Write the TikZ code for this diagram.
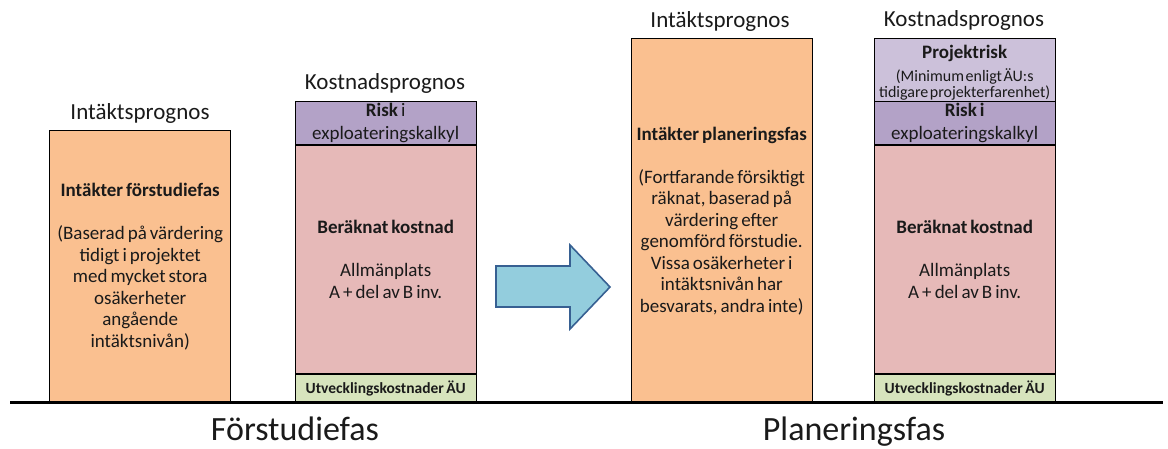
\documentclass[tikz,border=0pt]{standalone}
\usepackage{fontspec}
\setmainfont{Carlito}
\definecolor{orangeF}{HTML}{FAC090}
\definecolor{purpleF}{HTML}{B3A2C7}
\definecolor{lilacF}{HTML}{CCC1DA}
\definecolor{pinkF}{HTML}{E6B9B8}
\definecolor{greenF}{HTML}{D7E4BD}
\definecolor{arrowF}{HTML}{93CDDD}
\definecolor{arrowD}{HTML}{376092}
\definecolor{txt}{HTML}{1A1A1A}
\tikzset{
  seg/.style={draw=black, line width=1.4pt, anchor=north west, inner sep=0pt,
    minimum width=181pt, align=center, text=txt,
    font={\fontsize{19}{21.5}\selectfont\spaceskip=0.16em}},
  title/.style={anchor=base, font={\fontsize{23}{27}\selectfont}, text=txt, inner sep=0pt},
  phase/.style={anchor=base, font={\fontsize{34}{38}\selectfont}, text=txt, inner sep=0pt},
  devfont/.style={font={\fontsize{15.5}{17}\selectfont\bfseries\spaceskip=0.16em}},
}
\newcommand{\smalltxt}{\fontsize{16}{16.5}\selectfont\spaceskip=0.1em}
\begin{document}
\begin{tikzpicture}[x=1pt,y=-1pt]
\useasboundingbox (0,0) rectangle (1168,448);
% ---- Förstudiefas ----
\node[seg, fill=orangeF, minimum height=272pt] (inc1) at (49,130)
  {\textbf{Intäkter förstudiefas}\\[21.5pt](Baserad på värdering\\tidigt i projektet\\med mycket stora\\osäkerheter\\angående\\intäktsnivån)};
\node[seg, fill=purpleF, minimum height=43.5pt] (risk1) at (294.5,100.7)
  {\textbf{Risk}\,i\\[1pt]exploateringskalkyl};
\node[seg, fill=pinkF, minimum height=229pt] (cost1) at (294.5,144.2)
  {\textbf{Beräknat kostnad}\\[22pt]Allmänplats\\A + del av B inv.};
\node[seg, fill=greenF, minimum height=29pt, devfont] (dev1) at (294.5,373.2)
  {Utvecklingskostnader ÄU};
\node[title] (t1) at (140,119) {Intäktsprognos};
\node[title] (t2) at (385,89) {Kostnadsprognos};
% ---- Planeringsfas ----
\node[seg, fill=orangeF, minimum height=364pt] (inc2) at (630.5,38)
  {\textbf{Intäkter planeringsfas}\\[21.5pt](Fortfarande försiktigt\\räknat, baserad på\\värdering efter\\genomförd förstudie.\\Vissa osäkerheter i\\intäktsnivån har\\besvarats, andra inte)};
\node[seg, fill=lilacF, minimum height=62.5pt] (prisk2) at (873.5,38)
  {\rule{0pt}{19pt}\textbf{Projektrisk}\\[1pt]{\smalltxt (Minimum enligt ÄU:s}\\[-5pt]{\smalltxt tidigare projekterfarenhet)}};
\node[seg, fill=purpleF, minimum height=43.5pt] (risk2) at (873.5,100.7)
  {\textbf{Risk i}\\[1pt]exploateringskalkyl};
\node[seg, fill=pinkF, minimum height=229pt] (cost2) at (873.5,144.2)
  {\textbf{Beräknat kostnad}\\[22pt]Allmänplats\\A + del av B inv.};
\node[seg, fill=greenF, minimum height=29pt, devfont] (dev2) at (873.5,373.2)
  {Utvecklingskostnader ÄU};
\node[title] (t3) at (720,27) {Intäktsprognos};
\node[title] (t4) at (964,26) {Kostnadsprognos};
% ---- arrow ----
\draw[draw=arrowD, fill=arrowF, line width=1.6pt, line join=miter]
  (496,266) -- (570,266) -- (570,245) -- (610,287) -- (570,329) -- (570,307) -- (496,307) -- cycle;
% ---- ground line ----
\coordinate (gl) at (10,402.5);
\coordinate (gr) at (1163,402.5);
\draw[line width=3pt] (gl) -- (gr);
% ---- phase labels ----
\node[phase] (p1) at (295,440) {Förstudiefas};
\node[phase] (p2) at (854,440) {Planeringsfas};
\end{tikzpicture}
\end{document}
